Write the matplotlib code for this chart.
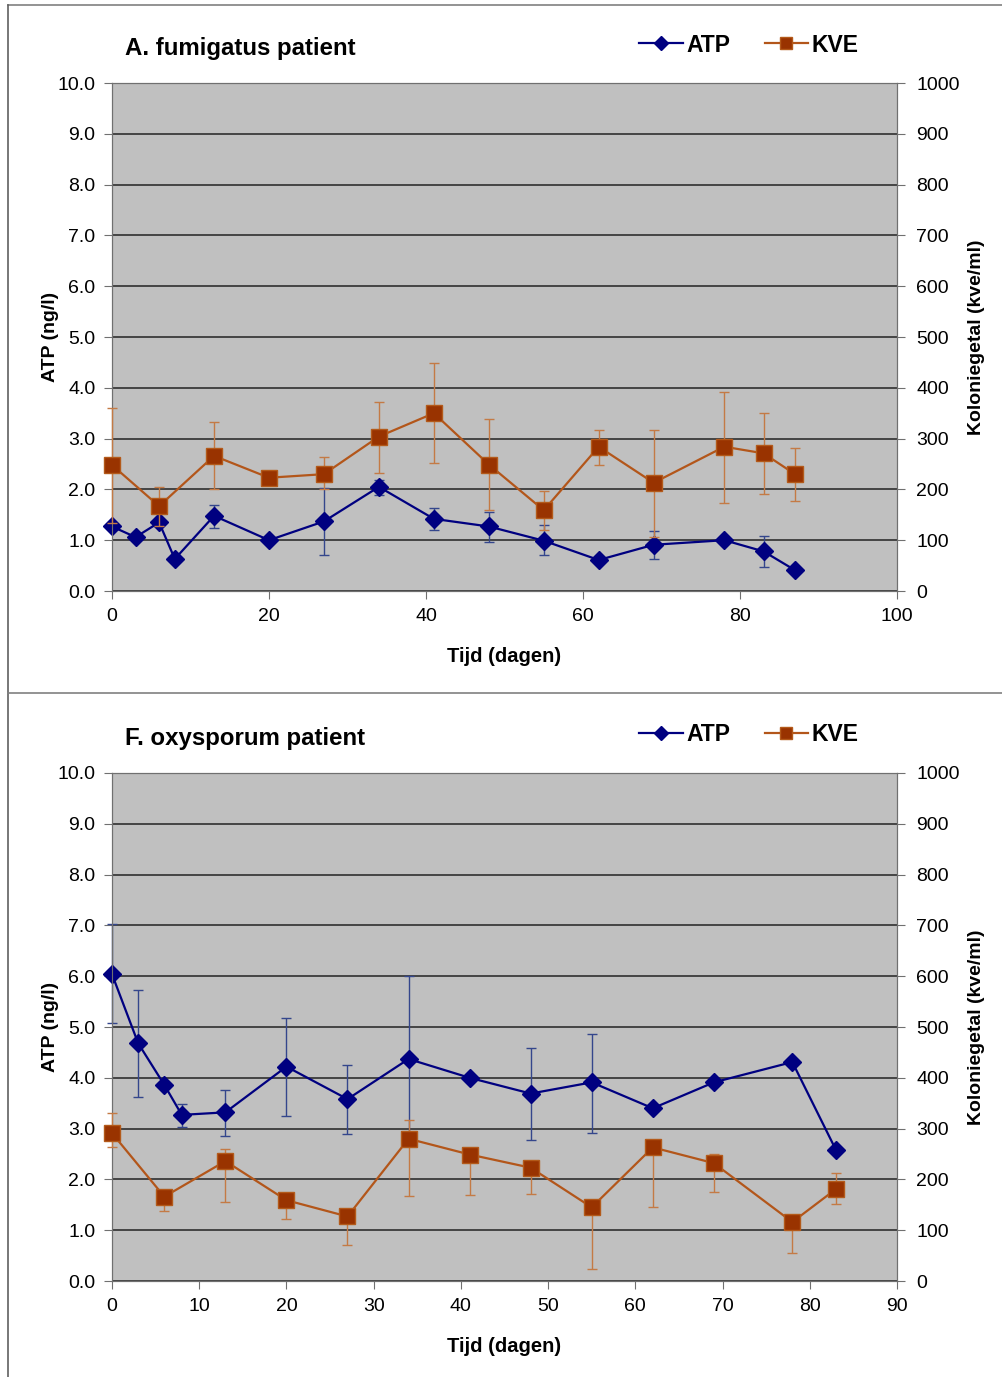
import matplotlib
matplotlib.use('Agg')
import matplotlib.pyplot as plt
from matplotlib.lines import Line2D

plt.rcParams['font.family'] = ['Liberation Sans', 'DejaVu Sans']

# A. fumigatus patient
fum_days_atp = [0, 3, 6, 8, 13, 20, 27, 34, 41, 48, 55, 62, 69, 78, 83, 87]
fum_atp = [1.27, 1.06, 1.35, 0.63, 1.48, 1.00, 1.37, 2.05, 1.42, 1.27, 0.99, 0.61, 0.91, 1.00, 0.78, 0.41]
fum_atp_lo = [0, 0, 0, 0, 0.24, 0, 0.66, 0.16, 0.22, 0.30, 0.28, 0.05, 0.28, 0, 0.30, 0]
fum_atp_hi = [0, 0, 0, 0, 0.22, 0, 0.65, 0.13, 0.22, 0.28, 0.31, 0.05, 0.28, 0, 0.30, 0]

fum_days_kve = [0, 6, 13, 20, 27, 34, 41, 48, 55, 62, 69, 78, 83, 87]
fum_kve = [248, 167, 266, 223, 230, 304, 350, 249, 159, 284, 213, 284, 271, 230]
fum_kve_lo = [115, 39, 66, 0, 30, 72, 98, 89, 38, 35, 106, 110, 81, 52]
fum_kve_hi = [112, 37, 66, 0, 33, 69, 99, 89, 38, 33, 104, 108, 79, 52]

# F. oxysporum patient
oxy_days_atp = [0, 3, 6, 8, 13, 20, 27, 34, 41, 48, 55, 62, 69, 78, 83]
oxy_atp = [6.04, 4.68, 3.86, 3.27, 3.32, 4.22, 3.58, 4.37, 4.00, 3.69, 3.91, 3.40, 3.91, 4.31, 2.58]
oxy_atp_lo = [0.97, 1.05, 0, 0.24, 0.47, 0.97, 0.68, 1.63, 0, 0.91, 0.99, 0, 0, 0, 0]
oxy_atp_hi = [0.98, 1.05, 0, 0.21, 0.44, 0.95, 0.68, 1.63, 0, 0.89, 0.95, 0, 0, 0, 0]

oxy_days_kve = [0, 6, 13, 20, 27, 34, 41, 48, 55, 62, 69, 78, 83]
oxy_kve = [291, 166, 236, 159, 127, 280, 249, 223, 145, 263, 232, 116, 181]
oxy_kve_lo = [27, 28, 80, 37, 56, 112, 80, 51, 121, 117, 56, 60, 29]
oxy_kve_hi = [39, 10, 23, 10, 10, 37, 10, 10, 10, 10, 18, 10, 31]

W, H = 1003, 1377
fig = plt.figure(figsize=(W / 100, H / 100), dpi=100)


def panel(top, title, d_atp, atp, atp_lo, atp_hi, d_kve, kve, kve_lo, kve_hi, xmax, xstep):
    # top = pixel row of the plot area's upper edge
    ax = fig.add_axes([112 / W, 1 - (top + 508) / H, 785 / W, 508 / H])
    ax.set_facecolor('#c0c0c0')
    ax.set_xlim(0, xmax)
    ax.set_ylim(0, 10)
    ax.set_xticks(range(0, xmax + 1, xstep))
    ax.set_yticks(range(0, 11))
    ax.set_yticklabels(['%.1f' % v for v in range(0, 11)])
    ax.yaxis.grid(True, color='#3a3a3a', lw=1.3)
    ax.set_axisbelow(True)
    for s in ax.spines.values():
        s.set_color('#707070')
    ax.tick_params(labelsize=14, length=6, color='#707070', pad=6)
    ax.set_xlabel('Tijd (dagen)', fontsize=14.5, fontweight='bold', labelpad=16)
    ax.set_ylabel('ATP (ng/l)', fontsize=14, fontweight='bold', labelpad=-1)

    a = ax.errorbar(d_atp, atp, yerr=[atp_lo, atp_hi], color='#000080', lw=1.6,
                    marker='D', ms=9, mfc='#000080', mec='#000080',
                    ecolor='#34468c', elinewidth=1, capsize=3.5, zorder=3)
    for art in a.get_children():
        art.set_clip_on(False)

    ax2 = ax.twinx()
    ax2.set_ylim(0, 1000)
    ax2.set_yticks(range(0, 1001, 100))
    for s in ax2.spines.values():
        s.set_color('#707070')
    ax2.tick_params(labelsize=14, length=6, color='#707070', pad=8)
    ax2.set_ylabel('Koloniegetal (kve/ml)', fontsize=14, fontweight='bold', labelpad=6)
    k = ax2.errorbar(d_kve, kve, yerr=[kve_lo, kve_hi], color='#b3561a', lw=1.6,
                     marker='s', ms=11.5, mfc='#993300', mec='#b35a1a',
                     ecolor='#c47a45', elinewidth=1, capsize=3.5, zorder=3)
    for art in k.get_children():
        art.set_clip_on(False)

    fig.text(125 / W, 1 - (top - 35) / H, title, fontsize=17.3, fontweight='bold',
             va='center', ha='left')
    ax.legend([a[0], k[0]], ['ATP', 'KVE'], loc='center',
              bbox_to_anchor=(749 / W, 1 - (top - 38) / H), bbox_transform=fig.transFigure,
              ncol=2, frameon=False, numpoints=1, markerscale=0.75,
              handlelength=1.9, handletextpad=0.15, columnspacing=1.5,
              prop={'size': 16.5, 'weight': 'bold'})


panel(83, 'A. fumigatus patient', fum_days_atp, fum_atp, fum_atp_lo, fum_atp_hi,
      fum_days_kve, fum_kve, fum_kve_lo, fum_kve_hi, 100, 20)
panel(773, 'F. oxysporum patient', oxy_days_atp, oxy_atp, oxy_atp_lo, oxy_atp_hi,
      oxy_days_kve, oxy_kve, oxy_kve_lo, oxy_kve_hi, 90, 10)

# panel frames
fig.add_artist(Line2D([8 / W, 1], [1 - 4.5 / H, 1 - 4.5 / H], color='#808080', lw=1.2))
fig.add_artist(Line2D([8 / W, 8 / W], [0, 1 - 4.5 / H], color='#606060', lw=1.2))
fig.add_artist(Line2D([8 / W, 1], [1 - 693 / H, 1 - 693 / H], color='#808080', lw=1.2))

fig.savefig('out.png', dpi=100, facecolor='white')
